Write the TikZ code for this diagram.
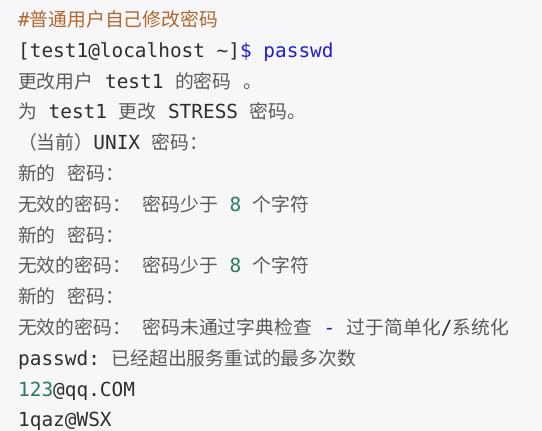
\documentclass[tikz,border=0pt]{standalone}
\usepackage{fontspec}
\setmonofont{DejaVu Sans Mono}
\newfontfamily\cnfont{Noto Sans CJK SC}
\definecolor{bgc}{HTML}{F7F6F9}
\definecolor{cmt}{HTML}{B0672E}
\definecolor{asc}{HTML}{2E2E2E}
\definecolor{cjk}{HTML}{5A5A5A}
\definecolor{kw}{HTML}{1F1FCC}
\definecolor{num}{HTML}{2A7A5C}
\newcommand{\zh}[1]{{\cnfont\fontsize{18.8}{20}\selectfont\color{cjk}#1}}
\newcommand{\zc}[1]{{\cnfont\fontsize{18.8}{20}\selectfont#1}}
\tikzset{
  codeline/.style={anchor=base west, inner sep=0pt, font=\ttfamily\fontsize{19.4}{20}\selectfont, text=asc},
}
\begin{document}
\begin{tikzpicture}[x=1pt,y=-1pt]
\fill[bgc] (0,0) rectangle (542,431);
\useasboundingbox (0,0) rectangle (542,431);
\def\lh{30.8}
\def\yo{26.5}
\node[codeline] (l1) at (18,\yo) {\color{cmt}\#\zc{普通用户自己修改密码}};
\node[codeline] (l2) at (18,\yo+\lh) {[test1@localhost \textasciitilde]\textcolor{kw}{\$ passwd}};
\node[codeline] (l3) at (18,\yo+2*\lh) {\zh{更改用户} test1 \zh{的密码} \zh{。}};
\node[codeline] (l4) at (18,\yo+3*\lh) {\zh{为} test1 \zh{更改} STRESS \zh{密码。}};
\node[codeline] (l5) at (18,\yo+4*\lh) {\zh{（当前）}UNIX \zh{密码：}};
\node[codeline] (l6) at (18,\yo+5*\lh) {\zh{新的} \zh{密码：}};
\node[codeline] (l7) at (18,\yo+6*\lh) {\zh{无效的密码：} \zh{密码少于} \textcolor{num}{8} \zh{个字符}};
\node[codeline] (l8) at (18,\yo+7*\lh) {\zh{新的} \zh{密码：}};
\node[codeline] (l9) at (18,\yo+8*\lh) {\zh{无效的密码：} \zh{密码少于} \textcolor{num}{8} \zh{个字符}};
\node[codeline] (l10) at (18,\yo+9*\lh) {\zh{新的} \zh{密码：}};
\node[codeline] (l11) at (18,\yo+10*\lh) {\zh{无效的密码：} \zh{密码未通过字典检查} \textcolor{kw}{-} \zh{过于简单化}/\zh{系统化}};
\node[codeline] (l12) at (18,\yo+11*\lh) {passwd: \zh{已经超出服务重试的最多次数}};
\node[codeline] (l13) at (18,\yo+12*\lh) {\textcolor{num}{123}@qq.COM};
\node[codeline] (l14) at (18,\yo+13*\lh) {1qaz@WSX};
\end{tikzpicture}
\end{document}
